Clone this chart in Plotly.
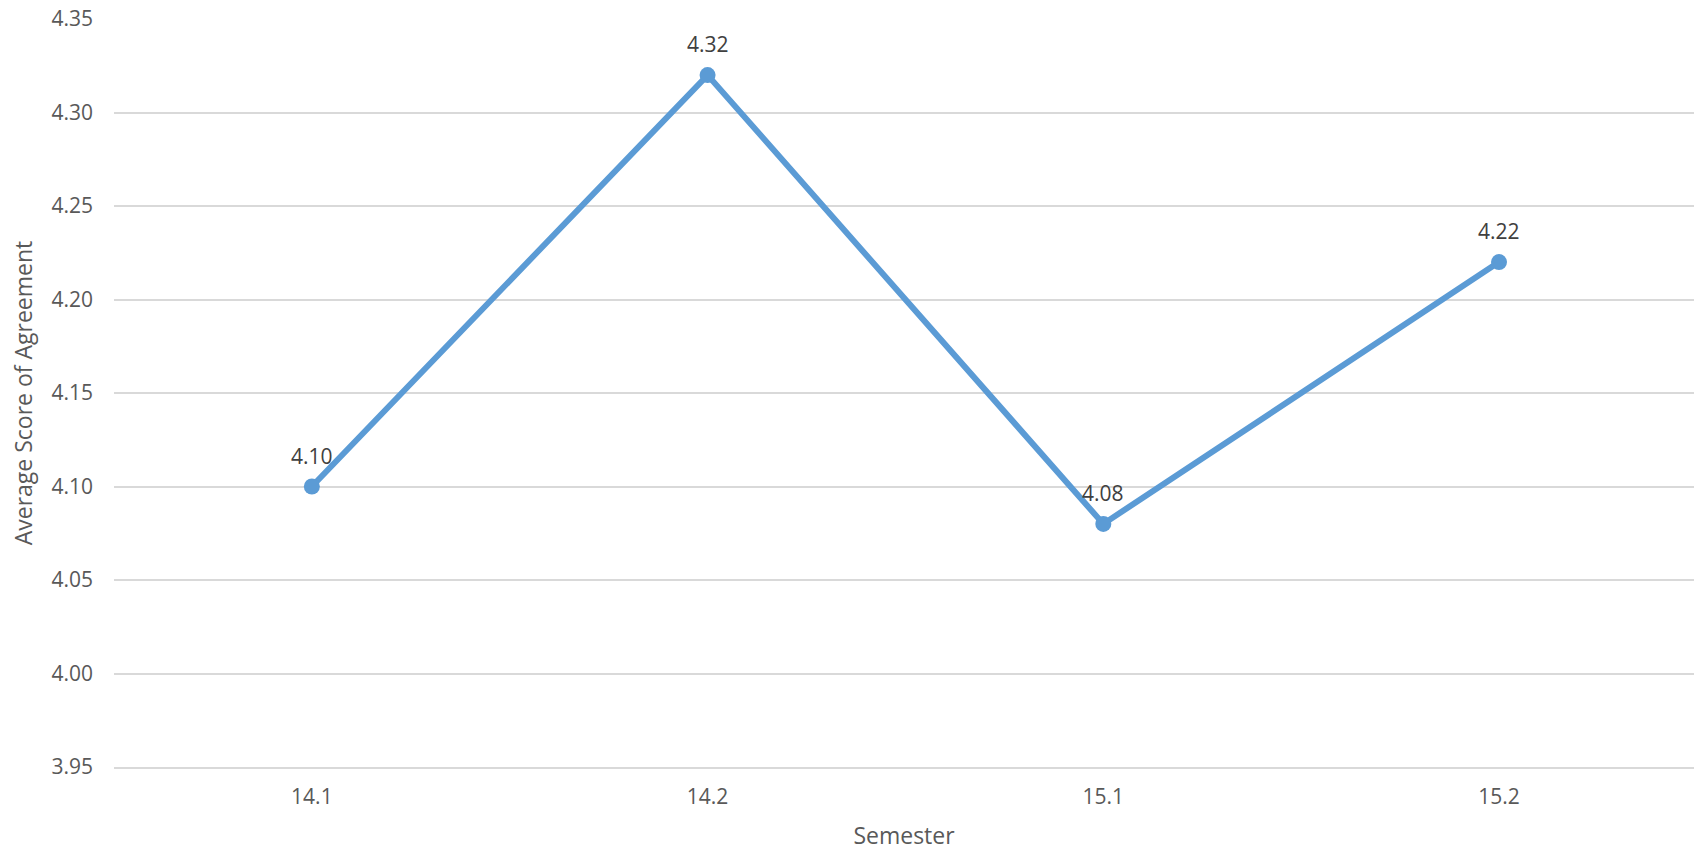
import plotly.graph_objects as go

semesters = ["14.1", "14.2", "15.1", "15.2"]
scores = [4.10, 4.32, 4.08, 4.22]
y_ticks = [3.95, 4.00, 4.05, 4.10, 4.15, 4.20, 4.25, 4.30, 4.35]

FONT = "Open Sans"

fig = go.Figure()
fig.add_trace(go.Scatter(
    x=semesters, y=scores,
    mode="lines+markers",
    line=dict(color="#5B9BD5", width=6),
    marker=dict(color="#5B9BD5", size=16),
    cliponaxis=False,
    hoverinfo="x+y",
))

for i, v in enumerate(scores):
    fig.add_annotation(
        x=i, y=v, xref="x", yref="y", text=f"{v:.2f}", showarrow=False,
        yshift=31, font=dict(family=FONT, size=21, color="#404040"),
    )

fig.update_layout(
    width=1694, height=852,
    margin=dict(l=114, r=0, t=19, b=85),
    paper_bgcolor="white", plot_bgcolor="white",
    showlegend=False,
    font=dict(family=FONT, color="#595959", size=21),
    xaxis=dict(
        type="category",
        range=[-0.5, 3.4927],
        showgrid=False, zeroline=False,
        showline=True, linecolor="#D9D9D9", linewidth=2,
        ticks="", ticklabelstandoff=10,
        tickfont=dict(family=FONT, size=21, color="#595959"),
        title=dict(text="Semester", font=dict(family=FONT, size=23, color="#595959"), standoff=19),
    ),
    yaxis=dict(
        range=[3.95, 4.35],
        tickvals=y_ticks,
        tickformat=".2f",
        showgrid=True, gridcolor="#D9D9D9", gridwidth=2,
        zeroline=False, showline=False,
        ticks="", ticklabelstandoff=20,
        tickfont=dict(family=FONT, size=21, color="#595959"),
        title=dict(text="Average Score of Agreement", font=dict(family=FONT, size=23, color="#595959"), standoff=12),
    ),
)

fig.write_html("out.html")
